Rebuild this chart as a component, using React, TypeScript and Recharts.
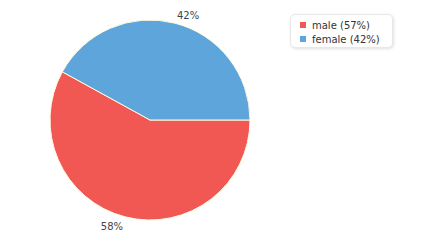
import React from 'react';
import { PieChart, Pie, Cell, Legend } from 'recharts';

const categories = ['male', 'female'];
const values = [58, 42];
const legendLabels = ['male (57%)', 'female (42%)'];
const colors = ['#F15854', '#5DA5DA'];

const data = categories.map((name, i) => ({ name, value: values[i] }));

const RADIAN = Math.PI / 180;

const renderLabel = (props: any) => {
  const { cx, cy, midAngle, outerRadius, percent } = props;
  const r = outerRadius + 8.5;
  const x = cx + r * Math.cos(-midAngle * RADIAN);
  const y = cy + r * Math.sin(-midAngle * RADIAN) + 1;
  return (
    <text
      x={x}
      y={y}
      fill="#444"
      fontSize={10}
      fontFamily="DejaVu Sans, sans-serif"
      textAnchor={x > cx ? 'start' : 'end'}
      dominantBaseline="central"
    >
      {`${Math.round(percent * 100)}%`}
    </text>
  );
};

const LegendContent = () => (
  <div
    style={{
      background: '#fff',
      border: '1px solid #e8e8e8',
      borderRadius: 5,
      boxShadow: '1px 1px 3px rgba(0,0,0,0.12)',
      padding: '3px 8px 4px 9px',
      fontFamily: 'DejaVu Sans, sans-serif',
      fontSize: 10,
      color: '#333',
      boxSizing: 'border-box',
      width: 103,
      height: 34,
    }}
  >
    {legendLabels.map((label, i) => (
      <div key={label} style={{ display: 'flex', alignItems: 'center', height: 14 }}>
        <span
          style={{
            display: 'inline-block',
            width: 6,
            height: 6,
            background: colors[i],
            marginRight: 6,
          }}
        />
        <span>{label}</span>
      </div>
    ))}
  </div>
);

export default function App() {
  return (
    <div style={{ position: 'absolute', left: 0, top: 0, width: 430, height: 250, background: '#fff' }}>
      <PieChart width={430} height={250} margin={{ top: 0, right: 0, bottom: 0, left: 0 }}>
        <Pie
          data={data}
          dataKey="value"
          nameKey="name"
          cx={150}
          cy={120}
          outerRadius={100}
          startAngle={151.2}
          endAngle={511.2}
          stroke="#fffbe0"
          strokeWidth={1}
          label={renderLabel}
          labelLine={false}
          isAnimationActive={false}
        >
          {data.map((d, i) => (
            <Cell key={d.name} fill={colors[i]} />
          ))}
        </Pie>
        <Legend
          content={<LegendContent />}
          wrapperStyle={{ position: 'absolute', left: 290, top: 14, width: 103 }}
        />
      </PieChart>
    </div>
  );
}
